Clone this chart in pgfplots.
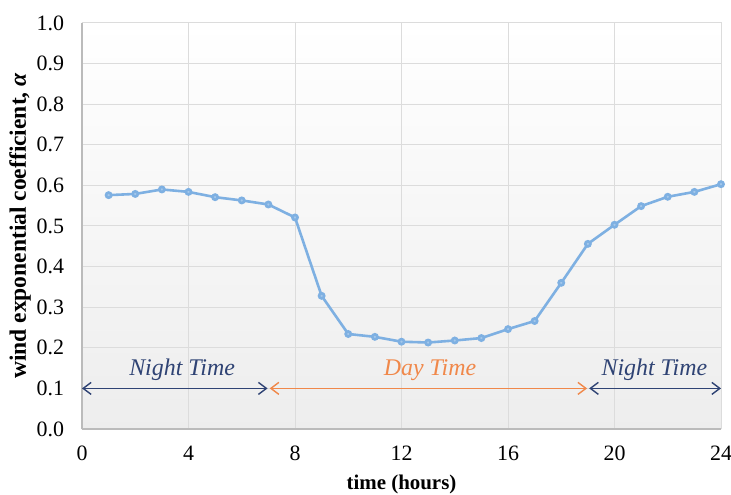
\documentclass[border=0pt]{standalone}
\usepackage{pgfplots}
\pgfplotsset{compat=1.18}
\usepackage{fontspec}
\setmainfont{Liberation Serif}
\usetikzlibrary{arrows.meta}
\definecolor{lineblue}{HTML}{7EB0E2}
\definecolor{navy}{HTML}{2F4374}
\definecolor{dayorange}{HTML}{F0884A}
\definecolor{gridgray}{HTML}{DCDCDC}
\begin{document}
\begin{tikzpicture}
\begin{axis}[
  scale only axis,
  width=319.5bp, height=203bp,
  xmin=0, xmax=24, ymin=0, ymax=1,
  xtick={0,4,...,24},
  ytick={0,0.1,0.2,0.3,0.4,0.5,0.6,0.7,0.8,0.9,1.0},
  yticklabels={0.0,0.1,0.2,0.3,0.4,0.5,0.6,0.7,0.8,0.9,1.0},
  yticklabel shift=5.5bp,
  /pgf/number format/assume math mode=true,
  ticklabel style={font=\fontsize{11}{13}\selectfont},
  xticklabel style={yshift=-5bp},
  tick style={draw=none},
  grid=major,
  major grid style={draw=gridgray, line width=0.5bp},
  axis line style={draw=gridgray!85!black, line width=0.6bp},
  axis x line*=bottom, axis y line*=left,
  axis background/.style={shade, top color=white, bottom color=black!7},
  xlabel={\textbf{time (hours)}},
  ylabel={\textbf{wind exponential coefficient, \textit{α}}},
  xlabel style={font=\fontsize{10.5}{12}\selectfont, at={(axis description cs:0.5,-0.1355)}, anchor=center},
  ylabel style={font=\fontsize{11.8}{13}\selectfont, at={(axis description cs:-0.097,0.5)}, anchor=center},
  clip=false,
]
% upper/right light frame
\addplot[draw=gridgray, line width=0.5bp, forget plot] coordinates {(0,1) (24,1) (24,0)};
\addplot[lineblue, line width=1.3bp, mark=*, mark size=1.3bp,
  mark options={fill=lineblue!70!white, draw=lineblue}] coordinates {
(1,0.576) (2,0.579) (3,0.590) (4,0.584) (5,0.571) (6,0.563) (7,0.553)
(8,0.521) (9,0.328) (10,0.234) (11,0.227) (12,0.215) (13,0.213)
(14,0.218) (15,0.224) (16,0.246) (17,0.266) (18,0.360) (19,0.456)
(20,0.503) (21,0.549) (22,0.572) (23,0.584) (24,0.603)};
\addplot[navy, line width=0.7bp, {Straight Barb[length=4bp,width=6bp]}-{Straight Barb[length=4bp,width=6bp]}] coordinates {(0,0.1) (6.97,0.1)};
\addplot[dayorange, line width=0.7bp, {Straight Barb[length=4bp,width=6bp]}-{Straight Barb[length=4bp,width=6bp]}] coordinates {(7.05,0.1) (18.97,0.1)};
\addplot[navy, line width=0.7bp, {Straight Barb[length=4bp,width=6bp]}-{Straight Barb[length=4bp,width=6bp]}] coordinates {(19.05,0.1) (24,0.1)};
\node[navy, font=\fontsize{12}{14}\selectfont\itshape] at (axis cs:3.76,0.145) {Night Time};
\node[dayorange, font=\fontsize{12}{14}\selectfont\itshape] at (axis cs:13.07,0.145) {Day Time};
\node[navy, font=\fontsize{12}{14}\selectfont\itshape] at (axis cs:21.5,0.145) {Night Time};
\end{axis}
\pgfresetboundingbox
\path (current axis.south west) ++(-41bp,-33bp) coordinate (bl);
\path (current axis.north east) ++(5bp,11.5bp) coordinate (tr);
\useasboundingbox (bl) rectangle (tr);
\end{tikzpicture}
\end{document}
